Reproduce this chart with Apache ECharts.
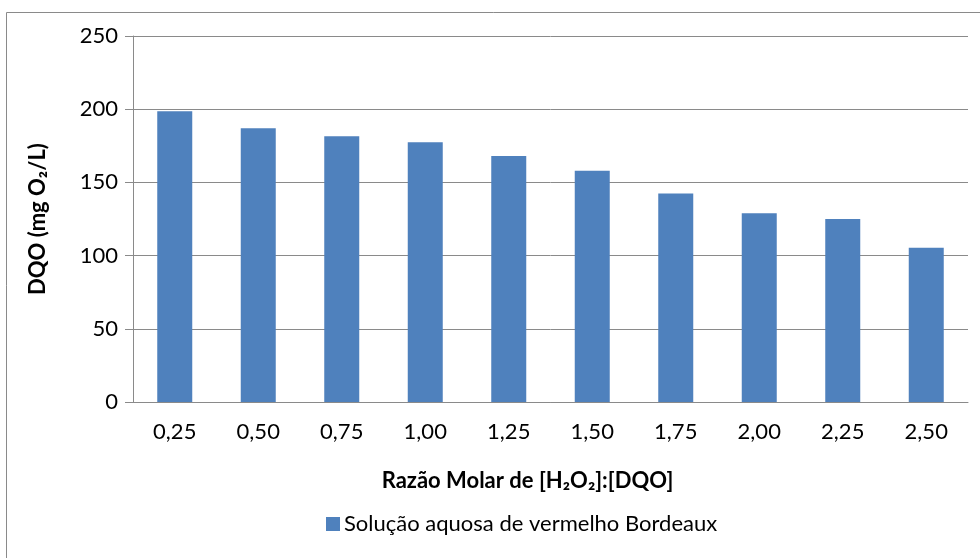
<!DOCTYPE html>
<html>
<head>
<meta charset="utf-8">
<script src="https://cdn.jsdelivr.net/npm/echarts@6/dist/echarts.min.js"></script>
<style>html,body{margin:0;padding:0;background:#fff}#c{width:980px;height:558px}</style>
</head>
<body>
<div id="c"></div>
<script>
var categories = ['0,25','0,50','0,75','1,00','1,25','1,50','1,75','2,00','2,25','2,50'];
var dqoValues = [198.6, 187, 181.5, 177.4, 168, 158, 142.5, 129, 125, 105.4];
var seriesName = 'Solução aquosa de vermelho Bordeaux';
var yTicks = [0, 50, 100, 150, 200, 250];

var FONT = 'Lato';
var FS = 22;
var chart = echarts.init(document.getElementById('c'), null, {renderer: 'canvas'});
chart.setOption({
  animation: false,
  backgroundColor: '#fff',
  graphic: [{
    type: 'rect', left: 4, top: 10, z: -1,
    shape: {width: 1000, height: 600},
    style: {fill: 'none', stroke: '#8a8a8a', lineWidth: 1}
  }],
  grid: {left: 133, right: 12, top: 36, bottom: 156, containLabel: false},
  legend: {
    data: [seriesName], bottom: 18, left: 321,
    icon: 'rect', itemWidth: 14, itemHeight: 14, itemGap: 4,
    textStyle: {fontFamily: FONT, fontSize: FS, color: '#000', padding: [0, 0, 0, -1]}
  },
  xAxis: {
    type: 'category', data: categories,
    name: 'Razão Molar de [H₂O₂]:[DQO]', nameLocation: 'middle', nameGap: 68,
    nameTextStyle: {fontFamily: FONT, fontSize: FS, fontWeight: 'bold', color: '#000', padding: [0, 46, 0, 0]},
    axisLine: {lineStyle: {color: '#8a8a8a', width: 1}},
    axisTick: {length: 6, lineStyle: {color: '#8a8a8a'}},
    axisLabel: {fontFamily: FONT, fontSize: FS, color: '#000', margin: 19}
  },
  yAxis: {
    type: 'value', min: 0, max: 250, interval: 50,
    name: 'DQO (mg O₂/L)', nameLocation: 'middle', nameGap: 84,
    nameTextStyle: {fontFamily: FONT, fontSize: FS, fontWeight: 'bold', color: '#000'},
    axisLine: {show: true, lineStyle: {color: '#8a8a8a', width: 1}},
    axisTick: {show: true, length: 8, lineStyle: {color: '#8a8a8a'}},
    axisLabel: {fontFamily: FONT, fontSize: FS, color: '#000', margin: 15,
      formatter: function (v) { return yTicks.indexOf(v) >= 0 ? String(v) : ''; }},
    splitLine: {lineStyle: {color: '#8a8a8a', width: 1}}
  },
  series: [{
    name: seriesName, type: 'bar', data: dqoValues, barWidth: 35,
    itemStyle: {color: '#4f81bd'}
  }]
});
</script>
</body>
</html>
